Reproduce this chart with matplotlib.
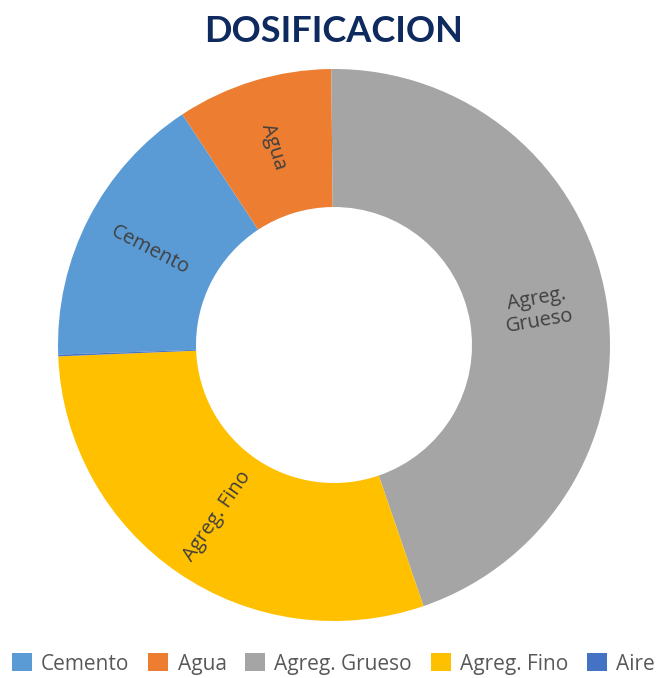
import numpy as np
import matplotlib.pyplot as plt

# dosificacion (%)
categorias = ['Cemento', 'Agua', 'Agreg. Grueso', 'Agreg. Fino', 'Aire']
valores = [16.3, 9.1, 44.9, 29.6, 0.1]
colores = ['#5B9BD5', '#ED7D31', '#A5A5A5', '#FFC000', '#4472C4']
etiquetas = ['Cemento', 'Agua', 'Agreg.\nGrueso', 'Agreg. Fino', '']

fig = plt.figure(figsize=(6.67, 6.78), dpi=100)
ax = fig.add_axes([58/667, 1-621/678, 552/667, 552/678])

wedges, _ = ax.pie(valores, colors=colores, startangle=-178, counterclock=False,
                   radius=1, wedgeprops=dict(width=0.5, edgecolor='none'))

# etiquetas en el medio del anillo, giradas en direccion radial
for w, lab in zip(wedges, etiquetas):
    if not lab:
        continue
    ang = (w.theta1 + w.theta2) / 2
    x = 0.75*np.cos(np.radians(ang))
    y = 0.75*np.sin(np.radians(ang))
    rot = ang % 360
    if 90 < rot < 270:
        rot = rot - 180
    if rot > 180:
        rot = rot - 360
    ax.text(x, y, lab, rotation=rot, ha='center', va='center', rotation_mode='anchor',
            fontsize=14.5, color='#404040', family='Open Sans', linespacing=1.2)

ax.set_xlim(-1, 1)
ax.set_ylim(-1, 1)
ax.set_aspect('equal')
ax.axis('off')

fig.text(0.5, 1-31/678, 'DOSIFICACION', ha='center', va='center', fontsize=26,
         fontweight='bold', color='#0E2A5E', family='Lato')

fig.legend(wedges, categorias, loc='center', bbox_to_anchor=(0.5, 1-664/678), ncol=5,
           frameon=False, prop={'family': 'Open Sans', 'size': 15}, handlelength=0.95,
           handleheight=0.95, handletextpad=0.45, columnspacing=0.9, labelcolor='#595959')

fig.savefig('out.png', dpi=100)
